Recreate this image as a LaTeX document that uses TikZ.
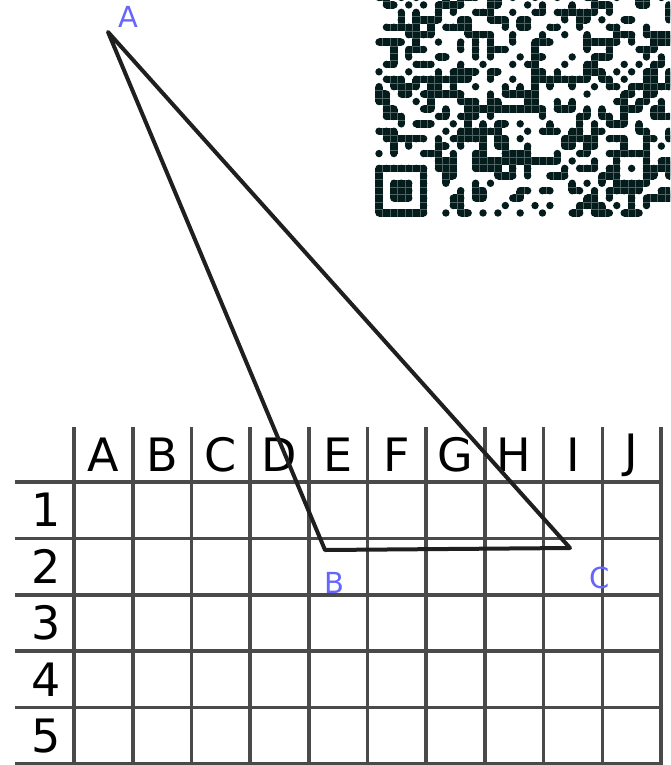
\documentclass[tikz,border=0pt]{standalone}
\usepackage{fontspec}
\setmainfont{DejaVu Sans}
\usetikzlibrary{positioning}

\definecolor{qrdark}{RGB}{4,28,28}
\definecolor{ptblue}{RGB}{102,102,255}
\definecolor{gridgray}{RGB}{74,74,74}

% module store of the code
\newcommand\qrset[3]{\expandafter\xdef\csname qrm-#1-#2\endcsname{#3}}
\newcommand\qrget[2]{\csname qrm-#1-#2\endcsname}

\begin{document}
\begin{tikzpicture}[
% Pixel units
	x=1pt, y=-1pt,
	gridline/.style={draw=gridgray, line width=3.6pt},
	header/.style={font=\fontsize{46}{46}\selectfont, inner sep=0pt},
	triside/.style={draw=black!88, line width=4pt, line join=round},
	ptlabel/.style={text=ptblue, font=\fontsize{29}{29}\selectfont, inner sep=0pt},
	qrline/.style={draw=qrdark!70!white, line width=0.5pt}]

\useasboundingbox (0,0) rectangle (670,765);
\clip (0,0) rectangle (670,765);

% QR code, top right
\def\qrx{375.3}
\def\qry{216.7}
\def\qrm{7.43}
\pgfmathsetseed{2718}
\foreach \c in {0,...,41}{\foreach \b in {0,...,30}{
	\pgfmathtruncatemacro\qv{rnd<0.47}
	\qrset{\c}{\b}{\qv}}}
% finder
\foreach \c in {0,...,7}{\foreach \b in {0,...,7}{
	\pgfmathtruncatemacro\qv{(\c<7)&&(\b<7)&&((\c==0)||(\c==6)||(\b==0)||(\b==6)||((\c>1)&&(\c<5)&&(\b>1)&&(\b<5)))}
	\qrset{\c}{\b}{\qv}}}
\qrset{8}{7}{1}
% timing
\foreach \b in {8,...,30}{
	\pgfmathtruncatemacro\qv{mod(\b+1,2)}
	\qrset{6}{\b}{\qv}}
% alignment
\foreach \c in {32,...,36}{\foreach \b in {4,...,8}{
	\pgfmathtruncatemacro\qv{(\c==32)||(\c==36)||(\b==4)||(\b==8)||((\c==34)&&(\b==6))}
	\qrset{\c}{\b}{\qv}}}

\foreach \c in {0,...,40}{\foreach \b in {0,...,29}{
	\ifnum\qrget{\c}{\b}=1
		\pgfmathsetmacro\qx{\qrx+(\c+0.5)*\qrm}
		\pgfmathsetmacro\qy{\qry-(\b+0.5)*\qrm}
		\pgfmathtruncatemacro\cn{\c+1}
		\pgfmathtruncatemacro\bn{\b+1}
		\fill[qrdark] (\qx,\qy) circle[radius=\qrm/2];
		\ifnum\qrget{\cn}{\b}=1 \fill[qrdark] (\qx,\qy-\qrm/2) rectangle ++(\qrm,\qrm); \fi
		\ifnum\qrget{\c}{\bn}=1 \fill[qrdark] (\qx-\qrm/2,\qy) rectangle ++(\qrm,-\qrm); \fi
	\fi}}
\foreach \c in {0,...,40}{\foreach \b in {0,...,29}{
	\ifnum\qrget{\c}{\b}=1
		\pgfmathsetmacro\qx{\qrx+(\c+0.5)*\qrm}
		\pgfmathsetmacro\qy{\qry-(\b+0.5)*\qrm}
		\pgfmathtruncatemacro\cn{\c+1}
		\pgfmathtruncatemacro\bn{\b+1}
		\ifnum\qrget{\cn}{\b}=1 \draw[qrline] (\qx+\qrm/2,\qy-\qrm/2) -- ++(0,\qrm); \fi
		\ifnum\qrget{\c}{\bn}=1 \draw[qrline] (\qx-\qrm/2,\qy-\qrm/2) -- ++(\qrm,0); \fi
	\fi}}

% Grid
\foreach \i in {0,...,10}
	\draw[gridline] (74+58.7*\i,427) -- (74+58.7*\i,765);
\foreach \j in {0,...,5}
	\draw[gridline] (15,482+56.4*\j) -- (662,482+56.4*\j);

% Column letters
\foreach \l [count=\i from 0] in {A,B,C,D,E,F,G,H,I,J}
	\node[header] (col\l) at (74+58.7*\i+29.35,455) {\l};

% Row numbers
\foreach \r in {1,...,5}
	\node[header] (row\r) at (46,482+56.4*\r-28.2) {\r};

% Triangle
\coordinate (A) at (108,32);
\coordinate (B) at (325,550);
\coordinate (C) at (570,548);
\draw[triside] (A) -- (B) -- (C) -- cycle;

\node[ptlabel] (labA) at (128,17) {A};
\node[ptlabel] (labB) at (334,583) {B};
\node[ptlabel] (labC) at (600,578) {C};

\end{tikzpicture}
\end{document}
